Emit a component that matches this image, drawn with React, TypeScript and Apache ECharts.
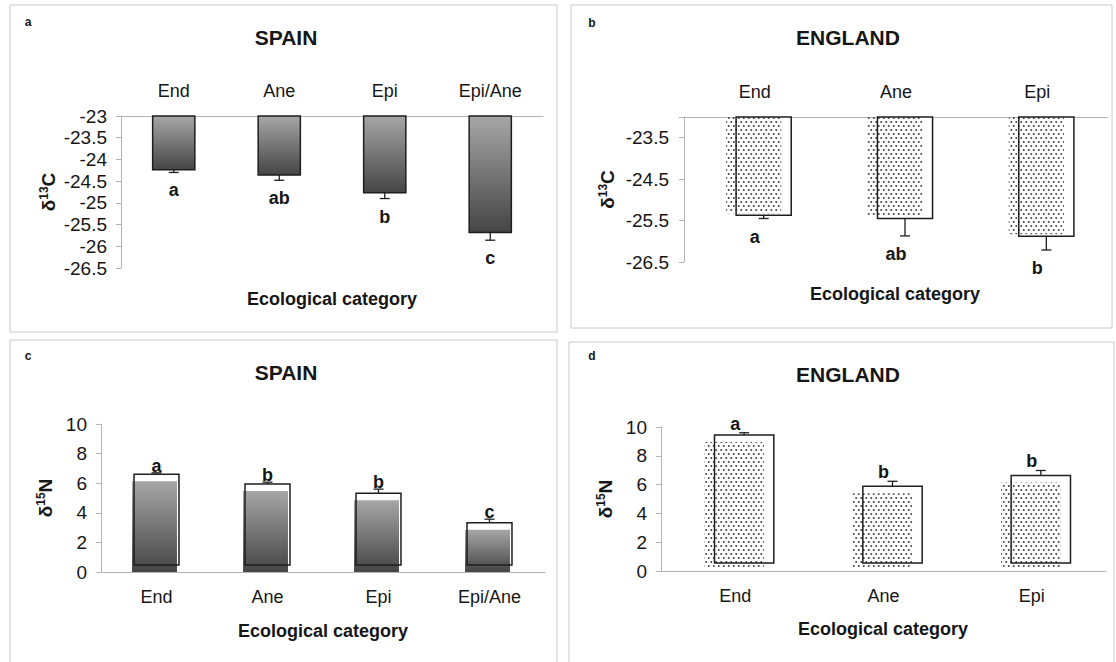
import React, { useEffect, useRef } from 'react';
import * as echarts from 'echarts';

// Ecological categories per country
const spainCategories = ['End', 'Ane', 'Epi', 'Epi/Ane'];
const englandCategories = ['End', 'Ane', 'Epi'];

// δ13C means, standard errors and significance groups
const spainCarbon = [-24.24, -24.36, -24.77, -25.68];
const spainCarbonErr = [0.06, 0.12, 0.13, 0.18];
const spainCarbonGroups = ['a', 'ab', 'b', 'c'];

const englandCarbon = [-25.37, -25.45, -25.88];
const englandCarbonErr = [0.08, 0.42, 0.33];
const englandCarbonGroups = ['a', 'ab', 'b'];

// δ15N means, standard errors and significance groups
const spainNitrogen = [6.6, 5.95, 5.32, 3.32];
const spainNitrogenErr = [0.1, 0.12, 0.28, 0.25];
const spainNitrogenGroups = ['a', 'b', 'b', 'c'];

const englandNitrogen = [9.45, 5.88, 6.63];
const englandNitrogenErr = [0.15, 0.35, 0.35];
const englandNitrogenGroups = ['a', 'b', 'b'];

// Axis ranges
const carbonTop = -23;
const carbonBottom = -26.5;
const nitrogenMin = 0;
const nitrogenMax = 10;

const FONT = '"Liberation Sans", Arial, Helvetica, sans-serif';
const INK = '#161616';
const OUTLINE = '#1e1e1e';
const AXIS = '#b4b4b4';
const FRAME = '#c8c8c8';
const TICK_FONT = 19;
const CAT_FONT = 18;
const GROUP_FONT = 18;

function shade() {
  return new echarts.graphic.LinearGradient(0, 0, 0, 1, [
    { offset: 0, color: '#a6a6a6' },
    { offset: 1, color: '#454545' },
  ]);
}

// Staggered stipple used for the England bars
function dotPattern(): any {
  const c = document.createElement('canvas');
  c.width = 20;
  c.height = 32;
  const g = c.getContext('2d')!;
  g.fillStyle = '#4a4a4a';
  for (const [x, y] of [[5, 8], [15, 24]]) {
    g.beginPath();
    g.arc(x, y, 3.9, 0, Math.PI * 2);
    g.fill();
  }
  return { image: c.toDataURL(), repeat: 'repeat', imageWidth: 5, imageHeight: 8 };
}

function groupLabel(text: string, x: number, y: number) {
  return {
    type: 'text',
    x,
    y,
    style: {
      text,
      font: `bold ${GROUP_FONT}px ${FONT}`,
      fill: INK,
      align: 'center',
      verticalAlign: 'middle',
      textAlign: 'center',
      textVerticalAlign: 'middle',
    },
  };
}

function errorBar(x: number, from: number, to: number) {
  return [
    { type: 'line', shape: { x1: x, y1: from, x2: x, y2: to }, style: { stroke: OUTLINE, lineWidth: 1.3 } },
    { type: 'line', shape: { x1: x - 5, y1: to, x2: x + 5, y2: to }, style: { stroke: OUTLINE, lineWidth: 1.3 } },
  ];
}

// Shaded bars hanging from the top of the δ13C axis
function hangingShaded(groups: string[]) {
  return (params: any, api: any) => {
    const i = api.value(0);
    const v = api.value(1);
    const e = api.value(2);
    const w = api.size([1, 0])[0] * 0.4;
    const top = api.coord([i, carbonTop]);
    const end = api.coord([i, v]);
    const tail = api.coord([i, v - e]);
    const cx = top[0];
    return {
      type: 'group',
      children: [
        {
          type: 'rect',
          shape: { x: cx - w / 2, y: top[1], width: w, height: end[1] - top[1] },
          style: { fill: shade(), stroke: OUTLINE, lineWidth: 1.5 },
        },
        ...errorBar(cx, end[1], tail[1]),
        groupLabel(groups[params.dataIndex], cx, tail[1] + 18),
      ],
    };
  };
}

// Open bars hanging from the top of the δ13C axis, with an offset dotted fill
function hangingDotted(groups: string[], dots: any) {
  return (params: any, api: any) => {
    const i = api.value(0);
    const v = api.value(1);
    const e = api.value(2);
    const w = api.size([1, 0])[0] * 0.39;
    const top = api.coord([i, carbonTop]);
    const end = api.coord([i, v]);
    const tail = api.coord([i, v - e]);
    const cx = top[0];
    const bx = cx + 9;
    const h = end[1] - top[1];
    return {
      type: 'group',
      children: [
        { type: 'rect', shape: { x: bx - w / 2, y: top[1], width: w, height: h }, style: { fill: '#fff' } },
        { type: 'rect', shape: { x: bx - w / 2 - 10, y: top[1], width: w, height: h - 2 }, style: { fill: dots } },
        {
          type: 'rect',
          shape: { x: bx - w / 2, y: top[1], width: w, height: h },
          style: { fill: 'none', stroke: OUTLINE, lineWidth: 1.5 },
        },
        ...errorBar(bx, end[1], tail[1]),
        groupLabel(groups[params.dataIndex], cx, tail[1] + 18),
      ],
    };
  };
}

// Open bars rising from zero with a shaded fill dropped below the outline
function risingShaded(groups: string[]) {
  return (params: any, api: any) => {
    const i = api.value(0);
    const v = api.value(1);
    const e = api.value(2);
    const w = api.size([1, 0])[0] * 0.405;
    const zero = api.coord([i, nitrogenMin]);
    const end = api.coord([i, v]);
    const tip = api.coord([i, v + e]);
    const cx = zero[0];
    const lift = 7;
    const h = zero[1] - lift - end[1];
    return {
      type: 'group',
      children: [
        { type: 'rect', shape: { x: cx - w / 2, y: end[1], width: w, height: h }, style: { fill: '#fff' } },
        { type: 'rect', shape: { x: cx - w / 2 - 2, y: end[1] + lift, width: w, height: h }, style: { fill: shade() } },
        {
          type: 'rect',
          shape: { x: cx - w / 2, y: end[1], width: w, height: h },
          style: { fill: 'none', stroke: OUTLINE, lineWidth: 1.5 },
        },
        ...errorBar(cx, end[1], tip[1]),
        groupLabel(groups[params.dataIndex], cx, tip[1] - 7),
      ],
    };
  };
}

// Open bars rising from zero with an offset dotted fill
function risingDotted(groups: string[], dots: any) {
  return (params: any, api: any) => {
    const i = api.value(0);
    const v = api.value(1);
    const e = api.value(2);
    const w = api.size([1, 0])[0] * 0.4;
    const zero = api.coord([i, nitrogenMin]);
    const end = api.coord([i, v]);
    const tip = api.coord([i, v + e]);
    const cx = zero[0];
    const bx = cx + 9;
    const h = zero[1] - 8 - end[1];
    return {
      type: 'group',
      children: [
        { type: 'rect', shape: { x: bx - w / 2, y: end[1], width: w, height: h }, style: { fill: '#fff' } },
        {
          type: 'rect',
          shape: { x: bx - w / 2 - 10, y: end[1] + 7, width: w, height: zero[1] - 2 - (end[1] + 7) },
          style: { fill: dots },
        },
        {
          type: 'rect',
          shape: { x: bx - w / 2, y: end[1], width: w, height: h },
          style: { fill: 'none', stroke: OUTLINE, lineWidth: 1.5 },
        },
        ...errorBar(bx, end[1], tip[1]),
        groupLabel(groups[params.dataIndex], cx, tip[1] - 9),
      ],
    };
  };
}

function rows(values: number[], errs: number[]) {
  return values.map((v, i) => [i, v, errs[i]]);
}

function categoryAxis(gridIndex: number, data: string[], position: 'top' | 'bottom') {
  return {
    gridIndex,
    type: 'category',
    data,
    position,
    axisLine: { onZero: false, lineStyle: { color: AXIS, width: 1 } },
    axisTick: { inside: position === 'top', length: 5, lineStyle: { color: AXIS } },
    axisLabel: { margin: 16, fontSize: CAT_FONT, color: INK, fontFamily: FONT },
    splitLine: { show: false },
  };
}

function deltaName(mass: string) {
  return `{g|δ}{s|${mass}}{g|${mass === '13' ? 'C' : 'N'}}`;
}

const nameRich = {
  g: { fontSize: 19, fontWeight: 'bold', fontFamily: FONT, color: INK, lineHeight: 21 },
  s: { fontSize: 12, fontWeight: 'bold', fontFamily: FONT, color: INK, verticalAlign: 'top', lineHeight: 21 },
};

function valueAxis(gridIndex: number, min: number, max: number, interval: number, mass: string, nameGap: number, labelMargin: number, hideMax: boolean) {
  return {
    gridIndex,
    type: 'value',
    min,
    max,
    interval,
    name: deltaName(mass),
    nameLocation: 'middle',
    nameRotate: 90,
    nameGap,
    nameTextStyle: { rich: nameRich },
    axisLine: { show: true, lineStyle: { color: AXIS, width: 1 } },
    axisTick: { show: true, length: 5, lineStyle: { color: AXIS } },
    axisLabel: {
      margin: labelMargin,
      fontSize: TICK_FONT,
      color: INK,
      fontFamily: FONT,
      formatter: (val: number) => (hideMax && val === max ? '' : String(val)),
    },
    splitLine: { show: false },
  };
}

function text(t: string, x: number, y: number, size: number) {
  return {
    type: 'text',
    x,
    y,
    style: {
      text: t,
      font: `bold ${size}px ${FONT}`,
      fill: INK,
      align: 'center',
      verticalAlign: 'middle',
      textAlign: 'center',
      textVerticalAlign: 'middle',
    },
  };
}

function frame(x: number, y: number, width: number, height: number) {
  return {
    type: 'rect',
    shape: { x, y, width, height },
    style: { fill: 'none', stroke: FRAME, lineWidth: 1 },
    z: -1,
  };
}

function buildOption(): any {
  const dots = dotPattern();
  return {
    animation: false,
    backgroundColor: '#fff',
    textStyle: { fontFamily: FONT },
    grid: [
      { left: 121, top: 116, width: 422, height: 152 },
      { left: 684, top: 117, width: 424, height: 145 },
      { left: 101, top: 424, width: 444, height: 148 },
      { left: 661, top: 427, width: 445, height: 144 },
    ],
    xAxis: [
      categoryAxis(0, spainCategories, 'top'),
      categoryAxis(1, englandCategories, 'top'),
      categoryAxis(2, spainCategories, 'bottom'),
      categoryAxis(3, englandCategories, 'bottom'),
    ],
    yAxis: [
      valueAxis(0, carbonBottom, carbonTop, 0.5, '13', 62, 14, false),
      valueAxis(1, carbonBottom, carbonTop, 1, '13', 66, 15, true),
      valueAxis(2, nitrogenMin, nitrogenMax, 2, '15', 45, 14, false),
      valueAxis(3, nitrogenMin, nitrogenMax, 2, '15', 45, 14, false),
    ],
    graphic: {
      elements: [
        frame(10, 5, 547, 327),
        frame(571, 5, 541, 323),
        frame(10, 340, 547, 340),
        frame(569, 342, 545, 340),
        text('a', 28, 22, 12),
        text('b', 592, 23, 12),
        text('c', 28, 356, 12),
        text('d', 592, 356, 12),
        text('SPAIN', 286, 37, 21),
        text('ENGLAND', 848, 37, 21),
        text('SPAIN', 286, 372, 21),
        text('ENGLAND', 848, 374, 21),
        text('Ecological category', 332, 299, 18),
        text('Ecological category', 895, 294, 18),
        text('Ecological category', 323, 631, 18),
        text('Ecological category', 883, 629, 18),
      ],
    },
    series: [
      {
        type: 'custom',
        xAxisIndex: 0,
        yAxisIndex: 0,
        data: rows(spainCarbon, spainCarbonErr),
        encode: { x: 0, y: 1 },
        renderItem: hangingShaded(spainCarbonGroups),
      },
      {
        type: 'custom',
        xAxisIndex: 1,
        yAxisIndex: 1,
        data: rows(englandCarbon, englandCarbonErr),
        encode: { x: 0, y: 1 },
        renderItem: hangingDotted(englandCarbonGroups, dots),
      },
      {
        type: 'custom',
        xAxisIndex: 2,
        yAxisIndex: 2,
        data: rows(spainNitrogen, spainNitrogenErr),
        encode: { x: 0, y: 1 },
        renderItem: risingShaded(spainNitrogenGroups),
      },
      {
        type: 'custom',
        xAxisIndex: 3,
        yAxisIndex: 3,
        data: rows(englandNitrogen, englandNitrogenErr),
        encode: { x: 0, y: 1 },
        renderItem: risingDotted(englandNitrogenGroups, dots),
      },
    ],
  };
}

export default function App() {
  const ref = useRef<HTMLDivElement>(null);
  useEffect(() => {
    document.body.style.margin = '0';
    const chart = echarts.init(ref.current!, null, { renderer: 'svg' });
    chart.setOption(buildOption());
    return () => chart.dispose();
  }, []);
  return <div ref={ref} style={{ width: 1116, height: 662 }} />;
}
